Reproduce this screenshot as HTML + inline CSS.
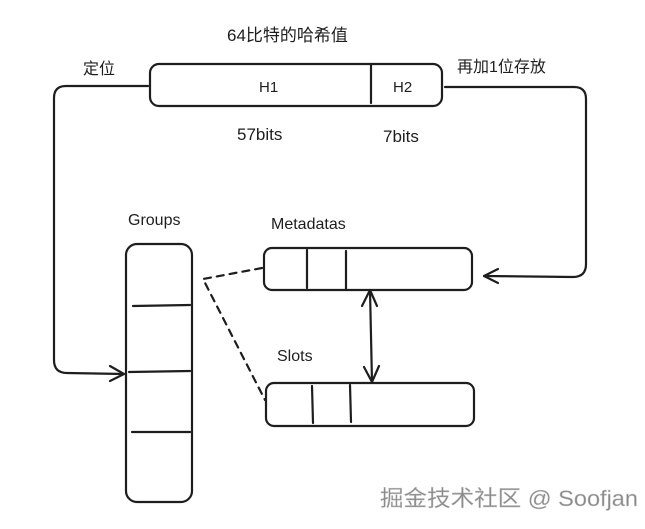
<!DOCTYPE html>
<html><head><meta charset="utf-8"><style>
html,body{margin:0;padding:0;background:#fff;}
svg{display:block}
text{font-family:"Liberation Sans","Noto Sans CJK SC",sans-serif;fill:#1e1e1e;}
</style></head><body>
<svg width="645" height="529" viewBox="0 0 645 529" xmlns="http://www.w3.org/2000/svg">
<g fill="none" stroke="#1e1e1e" stroke-width="2.2" stroke-linecap="round" stroke-linejoin="round">
<rect x="150" y="64" width="292" height="42" rx="9"/>
<line x1="371" y1="64" x2="371" y2="103"/>
<rect x="126" y="244" width="66" height="258" rx="11"/>
<line x1="133" y1="306" x2="190" y2="305"/>
<line x1="129" y1="372" x2="190" y2="371"/>
<line x1="132" y1="432" x2="190" y2="432"/>
<rect x="264" y="248" width="208" height="42" rx="8"/>
<line x1="307" y1="250" x2="307" y2="288"/>
<line x1="346" y1="251" x2="346" y2="289"/>
<rect x="266" y="383" width="208" height="43" rx="8"/>
<line x1="312" y1="386" x2="313" y2="423"/>
<line x1="350" y1="385" x2="351" y2="422"/>
<line x1="370" y1="290" x2="372" y2="382"/>
<path d="M362 306 L370 290 L377 306"/>
<path d="M364 367 L372 382 L379 366"/>
<path d="M262 268 L203 279 L265 400" stroke-dasharray="7 6"/>
<path d="M148 86 L66 86 Q54 86 54 98 L54 360 Q54 373 67 373 L124 374"/>
<path d="M110 366 L124 374 L110 381"/>
<path d="M445 87 L574 87 Q586 87 586 99 L586 264 Q586 277 573 277 L484 276"/>
<path d="M498 269 L484 276 L498 283"/>
</g>
<text x="227" y="41" font-size="17">64比特的哈希值</text>
<text x="83" y="74" font-size="16">定位</text>
<text x="457" y="72" font-size="16">再加1位存放</text>
<text x="259" y="92" font-size="15">H1</text>
<text x="393" y="92" font-size="15">H2</text>
<text x="237" y="140" font-size="17">57bits</text>
<text x="383" y="142" font-size="17">7bits</text>
<text x="128" y="225" font-size="16">Groups</text>
<text x="271" y="229" font-size="16">Metadatas</text>
<text x="277" y="361" font-size="16">Slots</text>
<text x="380" y="506" font-size="22" textLength="258" lengthAdjust="spacingAndGlyphs" style="fill:#8a8a8a;stroke:#ccc;stroke-width:0.4">掘金技术社区 @ Soofjan</text>
</svg>
</body></html>
